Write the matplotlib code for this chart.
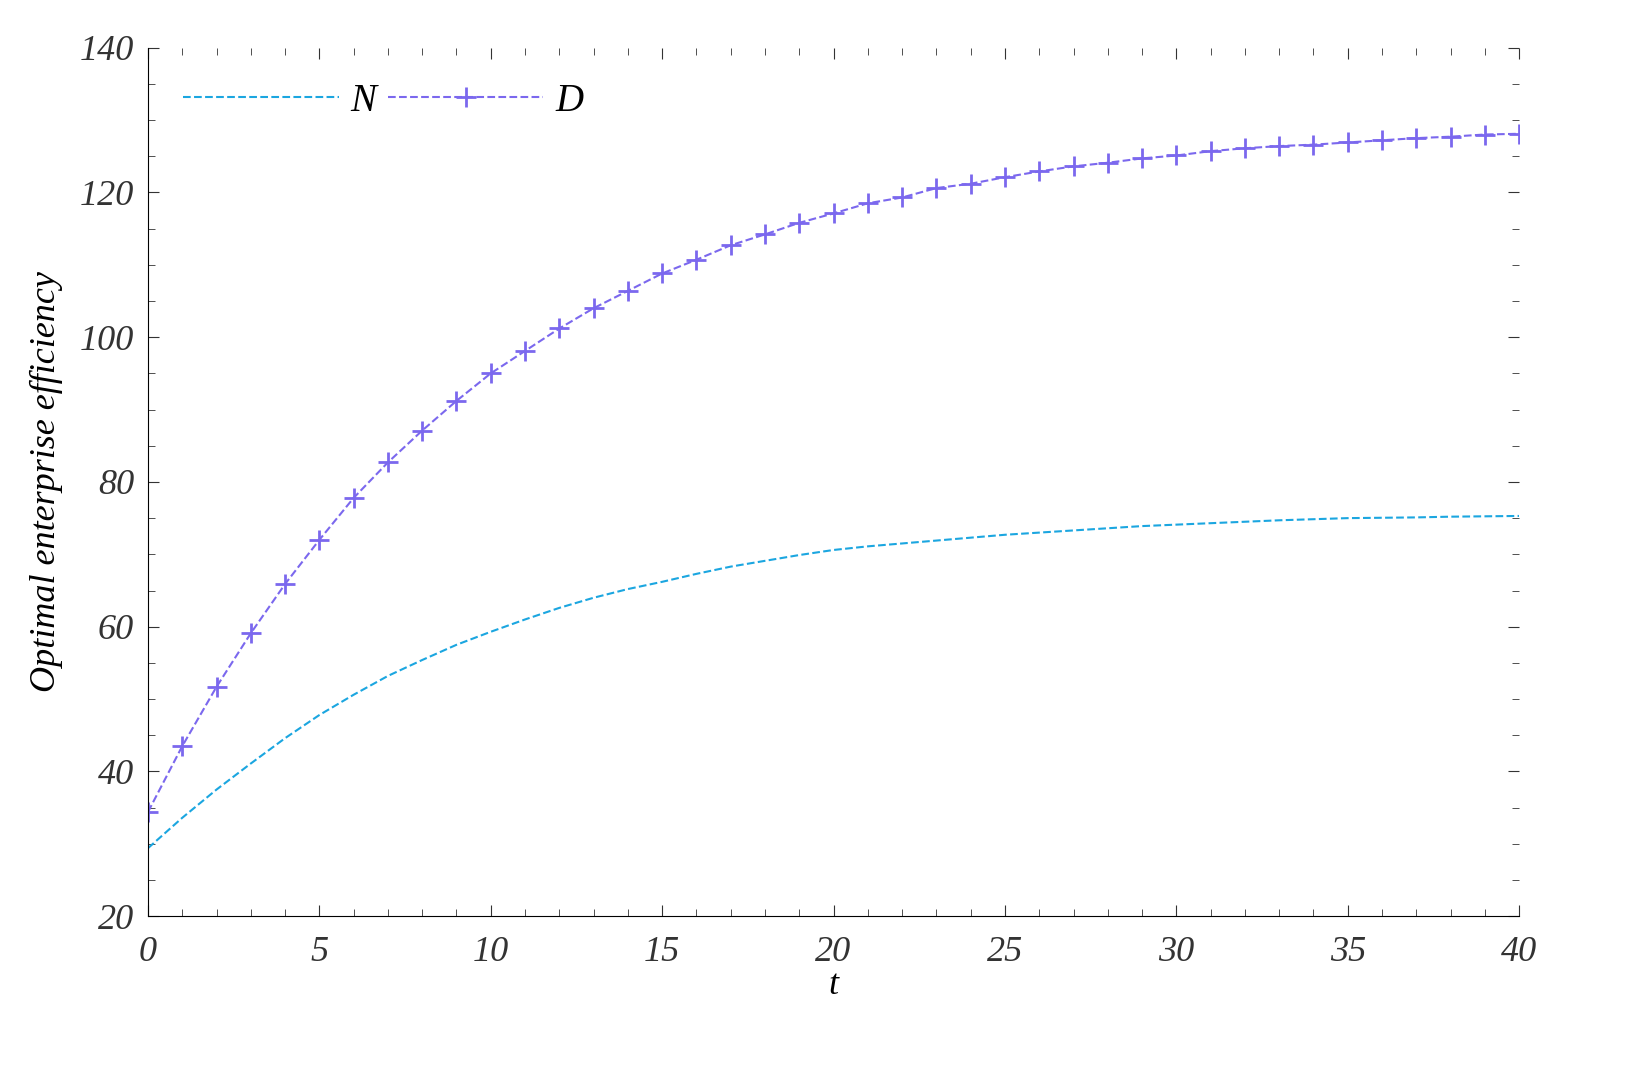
import matplotlib.pyplot as plt
from matplotlib.ticker import MultipleLocator

t = list(range(41))
n_vals = [29.4, 33.6, 37.5, 41.1, 44.6, 47.8, 50.6, 53.2, 55.4, 57.5,
          59.3, 61.0, 62.6, 64.0, 65.2, 66.2, 67.3, 68.3, 69.1, 69.9,
          70.6, 71.1, 71.5, 71.9, 72.3, 72.7, 73.0, 73.3, 73.6, 73.9,
          74.1, 74.3, 74.5, 74.7, 74.85, 75.0, 75.05, 75.1, 75.2, 75.25, 75.3]
d_vals = [34.4, 43.5, 51.7, 59.1, 65.9, 72.0, 77.8, 82.7, 87.1, 91.2,
          95.0, 98.1, 101.2, 104.0, 106.4, 108.8, 110.7, 112.7, 114.2, 115.8,
          117.1, 118.5, 119.3, 120.6, 121.2, 122.1, 122.9, 123.6, 124.1, 124.7,
          125.1, 125.7, 126.1, 126.4, 126.6, 126.9, 127.2, 127.5, 127.7, 128.0, 128.1]

plt.rcParams['font.family'] = ['Liberation Serif', 'DejaVu Serif']
plt.rcParams['font.style'] = 'italic'

fig = plt.figure(figsize=(16.48, 10.83), dpi=100)
ax = fig.add_axes([0.0898, 0.154, 0.832, 0.802])

ax.plot(t, n_vals, '--', color='#1ba6e0', lw=1.5, label='N')
ax.plot(t, d_vals, '--', color='#7b68ee', lw=1.5, marker='+', ms=14, mew=2, label='D')

ax.set_xlim(0, 40)
ax.set_ylim(20, 140)
ax.xaxis.set_major_locator(MultipleLocator(5))
ax.xaxis.set_minor_locator(MultipleLocator(1))
ax.yaxis.set_major_locator(MultipleLocator(20))
ax.yaxis.set_minor_locator(MultipleLocator(5))
ax.tick_params(which='both', direction='in', top=True, right=True, labelsize=26, colors='#333333')
ax.tick_params(which='major', length=8)
ax.tick_params(which='minor', length=5)
ax.tick_params(axis='x', pad=14)
ax.tick_params(axis='y', pad=10)
ax.spines['top'].set_visible(False)
ax.spines['right'].set_visible(False)
ax.set_xlabel('t', fontsize=26, labelpad=0)
ax.set_ylabel('Optimal enterprise efficiency', fontsize=26, labelpad=12)

ax.legend(loc='upper left', ncol=2, frameon=False, fontsize=28, handlelength=4,
          columnspacing=0.3, handletextpad=0.3)

fig.savefig('out.png')
